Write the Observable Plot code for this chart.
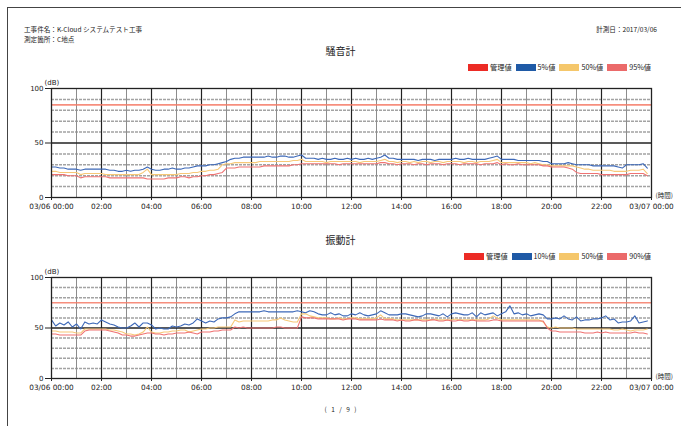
<!DOCTYPE html>
<html><head><meta charset="utf-8">
<script src="https://cdn.jsdelivr.net/npm/d3@7"></script>
<script src="https://cdn.jsdelivr.net/npm/@observablehq/plot@0.6"></script>
<style>
body{margin:0;background:#fff;width:681px;height:426px;overflow:hidden;position:relative;font-family:"Noto Sans CJK JP",sans-serif;color:#222;}
#frame{position:absolute;left:7px;top:7px;width:740px;height:460px;border-left:1.5px solid #444;border-top:1.5px solid #444;}
.t{position:absolute;white-space:nowrap;line-height:1;}
.hdr{font-size:6.6px;}
.title{font-size:10px;width:681px;left:0;text-align:center;}
.legend{position:absolute;right:30px;display:flex;align-items:center;font-size:7.2px;line-height:1;white-space:nowrap;}
.legend span.sw{display:inline-block;width:20px;height:6.5px;margin-right:2px;}
.legend span.lb{margin-right:4px;}
.legend span.lb:last-child{margin-right:0;}
.chart{position:absolute;left:0;}
</style>
</head><body>
<div id="frame"></div>
<div class="t hdr" style="left:24px;top:26px;">工事件名：K-Cloud システムテスト工事</div>
<div class="t hdr" style="left:24px;top:36px;">測定箇所：C地点</div>
<div class="t hdr" style="right:24px;top:26px;">計測日：2017/03/06</div>
<div class="t title" style="top:46px;">騒音計</div>
<div class="legend" id="leg1" style="top:64px;"></div>
<div class="chart" id="c1" style="top:76px;"></div>
<div class="t title" style="top:235px;">振動計</div>
<div class="legend" id="leg2" style="top:253px;"></div>
<div class="chart" id="c2" style="top:265px;"></div>
<div class="t" style="left:0;width:681px;text-align:center;top:406px;font-size:6.5px;word-spacing:3px;">(&nbsp;1 / 9&nbsp;)</div>
<script>
// ---- data ----
const xTickLabels = ["03/06 00:00","02:00","04:00","06:00","08:00","10:00","12:00","14:00","16:00","18:00","20:00","22:00","03/07 00:00"];
const yTicks = [0, 50, 100];
const minorGrid = [10, 20, 30, 40, 60, 70, 80, 90];
const noiseLimit = 85;
const vibLimit = 75;
const noiseNames = ["管理値", "5%値", "50%値", "95%値"];
const vibNames = ["管理値", "10%値", "50%値", "90%値"];
const legendColors = ["#ec2b25", "#1f5aa6", "#f5c76b", "#eb6a6a"];
const lineColors = ["#f47a66", "#3c68b8", "#f7c877", "#ef7373"];

// 騒音計 (10-minute values, 03/06 00:00 - 23:50)
const noiseL5 = [
 28,28,27,27,26,26, 26,25,26,26,26,26, 26,26,25,25,24,24, 25,24,25,25,26,28,
 26,25,25,26,26,27, 26,26,27,27,28,29, 29,29,30,30,31,32, 33,35,36,36,37,37,
 37,37,37,37,38,37, 37,38,38,37,37,38, 39,36,36,36,35,36, 35,35,36,35,35,36,
 35,36,35,35,36,35, 36,37,39,36,36,35, 35,35,35,35,34,35, 35,35,34,35,35,35,
 35,36,35,35,36,35, 35,35,35,36,37,38, 35,35,35,35,34,34, 34,34,34,34,33,33,
 31,31,31,31,32,31, 30,30,30,30,29,29, 29,29,29,29,28,27, 30,30,30,30,31,27];
const noiseL50 = [
 24,24,23,23,23,23, 23,21,22,22,22,22, 22,21,21,21,21,21, 21,21,21,21,23,26,
 21,21,21,21,21,21, 21,22,22,22,23,23, 24,24,25,25,26,30, 31,31,32,32,32,32,
 32,32,33,33,33,33, 33,33,33,33,34,34, 35,33,33,33,33,33, 32,33,33,33,33,33,
 33,33,32,33,33,33, 33,34,35,33,33,32, 33,33,32,33,32,33, 33,32,33,33,32,33,
 33,33,33,32,33,33, 32,33,33,33,34,35, 32,32,32,32,32,32, 32,31,32,31,30,30,
 29,29,29,29,29,29, 28,27,26,26,25,25, 25,25,25,24,24,24, 24,25,25,25,26,22];
const noiseL95 = [
 21,21,21,21,20,20, 20,18,19,19,19,19, 19,19,18,18,18,18, 18,18,18,18,18,17,
 17,17,17,17,18,18, 18,19,19,18,19,19, 20,20,21,21,22,23, 27,27,27,28,28,28,
 28,28,28,29,29,29, 29,29,29,29,30,30, 31,31,31,31,31,31, 31,31,31,30,31,31,
 31,31,31,31,31,31, 31,32,32,31,31,30, 31,31,31,30,31,31, 30,31,31,31,30,31,
 31,31,30,31,31,31, 31,30,31,31,31,32, 30,31,30,30,31,30, 30,30,30,30,29,29,
 28,28,28,28,27,26, 23,22,22,22,22,22, 21,21,21,21,21,21, 21,22,22,22,22,20];

// 振動計 (10-minute values, 03/06 00:00 - 23:50)
const vibL10 = [
 58,52,55,53,56,51, 54,49,56,54,55,54, 58,56,54,53,51,50, 50,52,55,51,55,55,
 53,49,50,49,49,52, 51,52,54,53,55,59, 57,55,57,56,59,60, 60,61,64,66,66,66,
 66,66,66,67,66,66, 66,66,66,66,66,67, 66,65,67,66,64,63, 63,65,63,64,62,62,
 64,63,65,63,62,63, 64,67,65,63,63,63, 64,64,63,62,61,62, 64,64,63,62,64,61,
 64,65,64,63,63,65, 61,65,63,64,65,62, 64,66,72,64,65,63, 64,62,63,64,63,59,
 59,60,59,62,59,58, 61,57,58,58,59,59, 60,62,58,59,55,56, 56,57,62,55,56,57];
const vibL50 = [
 47,47,46,46,46,46, 45,45,49,49,49,49, 49,49,48,48,47,46, 44,44,43,44,46,51,
 46,45,45,46,46,47, 47,48,48,46,47,48, 49,49,50,50,51,51, 51,51,58,56,57,57,
 57,57,57,57,57,58, 58,60,58,57,56,56, 64,64,62,61,60,60, 60,59,59,60,59,59,
 60,60,59,59,59,59, 60,63,59,59,59,58, 58,58,58,58,58,58, 58,58,59,58,58,58,
 58,59,58,58,58,58, 58,58,58,59,62,60, 58,58,58,58,58,58, 58,58,58,58,56,51,
 50,51,50,50,50,50, 49,49,49,49,49,49, 49,49,49,48,48,49, 48,47,48,48,48,49];
const vibL90 = [
 44,44,43,43,43,43, 43,43,47,48,48,48, 48,48,47,46,45,43, 43,42,42,43,44,45,
 45,44,44,43,44,44, 45,45,45,46,45,44, 46,46,46,47,47,48, 48,48,51,50,51,50,
 50,50,50,50,50,50, 51,51,50,50,50,50, 61,60,60,60,59,59, 59,59,59,59,58,59,
 59,59,58,58,58,58, 58,59,58,58,58,57, 58,57,57,58,58,57, 57,58,58,57,57,58,
 57,57,58,57,57,58, 57,57,57,57,58,58, 57,57,57,57,57,57, 57,57,57,57,57,50,
 47,47,46,46,46,46, 46,46,45,45,45,46, 45,46,45,45,45,45, 45,45,46,45,45,44];

// ---- time axis ----
const t0 = Date.UTC(2017, 2, 6, 0, 0);
const t1 = Date.UTC(2017, 2, 7, 0, 0);
const times = noiseL5.map((_, i) => new Date(t0 + i * 600000));
const tickDates = xTickLabels.map((_, i) => new Date(t0 + i * 7200000));
const hourLines = d3.range(1, 24).map(h => new Date(t0 + h * 3600000));
const oddHours = hourLines.filter((_, i) => i % 2 === 0);
const evenHours = hourLines.filter((_, i) => i % 2 === 1);

function legend(el, names) {
  el.innerHTML = names.map((n, i) =>
    `<span class="sw" style="background:${legendColors[i]}"></span><span class="lb">${n}</span>`).join("");
}

function chart(series, limit, frameH) {
  return Plot.plot({
    width: 681, height: 12 + frameH + 20,
    marginLeft: 51, marginRight: 30, marginTop: 12, marginBottom: 20,
    x: {type: "utc", domain: [new Date(t0), new Date(t1)]},
    y: {domain: [0, 100]},
    style: {fontFamily: "DejaVu Sans, sans-serif", fontSize: "7.3px", color: "#222", background: "transparent"},
    marks: [
      Plot.ruleY(minorGrid, {stroke: "#a3a3a3", strokeWidth: 1.5, strokeDasharray: "3,1"}),
      Plot.ruleX(oddHours, {stroke: "#8c8c8c", strokeWidth: 1}),
      Plot.ruleX(evenHours, {stroke: "#222", strokeWidth: 1.2}),
      Plot.ruleY([50], {stroke: "#222", strokeWidth: 1.3}),
      Plot.ruleY([limit], {stroke: lineColors[0], strokeWidth: 1.6, strokeOpacity: 0.85}),
      ...series.map((s, k) => Plot.line(s, {x: times, y: d => d, stroke: lineColors[k + 1], strokeWidth: 1.1})),
      Plot.frame({stroke: "#222", strokeWidth: 1.3}),
      Plot.axisY({ticks: yTicks, tickSize: 6, tickPadding: 2, label: null, fontSize: 7}),
      Plot.axisX({ticks: tickDates, tickSize: 3, tickPadding: 3, label: null,
        tickFormat: d => xTickLabels[Math.round((d - t0) / 7200000)]}),
      Plot.text(["(dB)"], {frameAnchor: "top-left", dx: -7, dy: -8, fontSize: 7}),
      Plot.text(["(時間)"], {frameAnchor: "bottom-right", dx: 4, textAnchor: "start", fontSize: 6.5, fontFamily: "Noto Sans CJK JP"})
    ]
  });
}

legend(document.getElementById("leg1"), noiseNames);
legend(document.getElementById("leg2"), vibNames);
document.getElementById("c1").append(chart([noiseL5, noiseL50, noiseL95], noiseLimit, 109));
document.getElementById("c2").append(chart([vibL10, vibL50, vibL90], vibLimit, 101));
</script>
</body></html>
